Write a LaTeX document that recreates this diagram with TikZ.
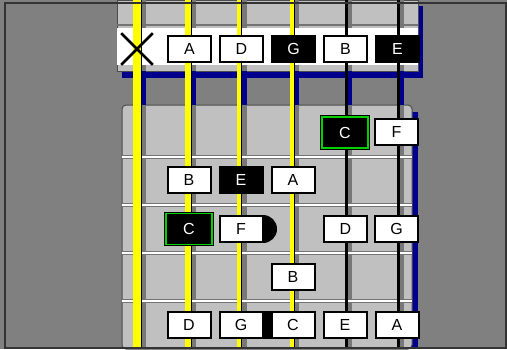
\documentclass[tikz,border=0pt]{standalone}
\usepackage{fontspec}
\setmainfont{Liberation Sans}
\definecolor{bgGray}{RGB}{128,128,128}
\definecolor{panelGray}{RGB}{192,192,192}
\definecolor{shadeGray}{RGB}{120,120,120}
\definecolor{shadeBlue}{RGB}{0,0,140}
\definecolor{strYellow}{RGB}{255,255,0}
\definecolor{rootGreen}{RGB}{0,210,0}
\usepackage{tikz}
\usetikzlibrary{positioning,shapes.misc}

\begin{document}
\begin{tikzpicture}[x=0.5pt, y=-0.5pt,
  note/.style={draw, line width=1pt, fill=white, minimum width=21.5pt,
               minimum height=13pt, inner sep=0pt, font=\fontsize{8}{9}\selectfont},
  dnote/.style={note, fill=black, text=white},
  root/.style={dnote, line width=0.5pt, double=rootGreen, double distance=0.9pt,
               minimum width=23pt, minimum height=15.5pt},
  node distance=3.5pt
]
  \useasboundingbox (0,0) rectangle (507,349);
  \fill[bgGray] (0,0) rectangle (507,349);

  % nut panel and fretboard with their shadows
  \fill[shadeBlue] (122,6) rectangle (423,78);
  \filldraw[panelGray, draw=black!70, line width=0.5pt] (117,0) rectangle (418,71);
  \fill[shadeBlue] (127,112) rectangle (418,349);
  \filldraw[panelGray, draw=black!70, line width=0.5pt, rounded corners=2pt]
    (122,105) rectangle (412,349);

  % string shadows
  \foreach \sx/\sw in {137/8, 188/6, 239/5, 292/4, 346/2, 398/2} {
    \fill[shadeGray] (\sx+\sw/2,0) rectangle (\sx+\sw/2+5,349);
    \fill[shadeBlue] (\sx+\sw/2,71) rectangle (\sx+\sw/2+5,105);
  }

  % white band of the nut
  \draw[black!55, line width=1pt] (117,25) -- (418,25);
  \fill[white] (117,28) rectangle (418,65);

  % frets
  \foreach \fy in {157, 205, 253, 301} {
    \draw[black!55, line width=2pt] (122,\fy) -- (412,\fy);
    \draw[white, line width=0.9pt] (122,\fy) -- (412,\fy);
  }

  % strings
  \foreach \sx/\sw/\sc in {137/8/strYellow, 188/6/strYellow, 239/5/strYellow,
                           292/4/strYellow, 346/2/black, 398/2/black} {
    \draw[\sc, line width=\sw*0.5pt] (\sx,0) -- (\sx,349);
    \draw[black, line width=0.5pt] (\sx+\sw/2,0) -- (\sx+\sw/2,349);
  }

  % black marks behind the notes
  \fill[black] (263,229) circle[radius=7pt];
  \fill[black] (264,311) rectangle (273,339);

  % open strings
  \node[draw, cross out, line width=1.3pt, minimum size=14.5pt] (mute) at (137,49) {};
  \node[note]                  (oA) at (189.5,49) {A};
  \node[note,  right=of oA]    (oD) {D};
  \node[dnote, right=of oD]    (oG) {G};
  \node[note,  right=of oG]    (oB) {B};
  \node[dnote, right=of oB]    (oE) {E};

  % fretted notes
  \node[root]  (f1c) at (345,132.5) {C};
  \node[note]  (f1f) at (396.5,132) {F};

  \node[note]                  (f2b) at (189,180) {B};
  \node[dnote, right=of f2b]   (f2e) {E};
  \node[note,  right=of f2e]   (f2a) {A};

  \node[root]  (f3c) at (189,229) {C};
  \node[note]  (f3f) at (241,228.5) {F};
  \node[note]  (f3d) at (345.5,229) {D};
  \node[note]  (f3g) at (396.5,229) {G};

  \node[note]  (f4b) at (293,277) {B};

  \node[note]                  (f5d) at (189,325) {D};
  \node[note,  right=of f5d]   (f5g) {G};
  \node[note,  right=of f5g]   (f5c) {C};
  \node[note,  right=of f5c]   (f5e) {E};
  \node[note,  right=of f5e]   (f5a) {A};

  % frame
  \draw[black!80, line width=1pt] (5,2.5) rectangle (506,347.5);
\end{tikzpicture}
\end{document}
